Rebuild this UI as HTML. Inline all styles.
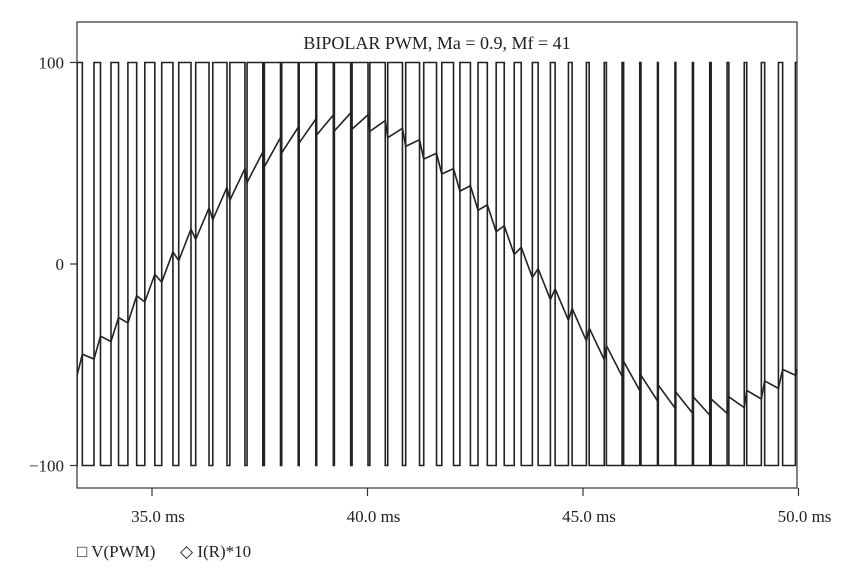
<!DOCTYPE html>
<html><head><meta charset="utf-8"><style>
body{margin:0;background:#fff;}
svg text{font-family:"Liberation Serif",serif;fill:#222;}
</style></head><body>
<svg id="c" width="862" height="575">
<defs><clipPath id="clip"><rect x="77" y="22" width="720" height="466"/></clipPath></defs>
<rect x="77" y="22" width="720" height="466" fill="none" stroke="#333" stroke-width="1.2"/>
<text x="437" y="49" font-size="18" text-anchor="middle">BIPOLAR PWM, Ma = 0.9, Mf = 41</text>
<g id="axes"></g>
<g id="series" clip-path="url(#clip)"></g>
<text x="77" y="557" font-size="17">□ V(PWM)</text>
<text x="180" y="557" font-size="17">◇ I(R)*10</text>
</svg>
<script>
const xTicks=[35,40,45,50];
const xTickLabels=["35.0 ms","40.0 ms","45.0 ms","50.0 ms"];
const yTicks=[100,0,-100];
const yTickLabels=["100","0","\u2212100"];
const carrierPeriod=0.4065;
const tFirst=33.12;
const duty=[0.30,0.37,0.43,0.50,0.57,0.64,0.70,0.76,0.81,0.86,0.90,0.92,0.94,0.95,0.95,0.93,0.91,0.88,0.84,0.79,0.73,0.67,0.60,0.53,0.46,0.40,0.33,0.27,0.21,0.16,0.12,0.09,0.07,0.05,0.05,0.06,0.08,0.10,0.14,0.19,0.24,0.30,0.37];
const current=[-54,-46,-37,-28,-17,-7,4,15,25,35,44,52,59,64,68,70,71,70,67,63,57,50,42,33,23,12,1,-10,-20,-30,-40,-48,-56,-62,-66,-69,-71,-71,-69,-65,-60,-54,-46,-37];
const ripple=8;
const NS="http://www.w3.org/2000/svg";
const tLeft=33.26, pxPerMs=43.1;
const X=t=>77+(t-tLeft)*pxPerMs;
const Y=v=>264-v*2.015;
const axes=document.getElementById('axes'),series=document.getElementById('series');
function mk(tag,attrs,parent){const e=document.createElementNS(NS,tag);for(const k in attrs)e.setAttribute(k,attrs[k]);parent.appendChild(e);return e;}
xTicks.forEach((t,i)=>{
 const l=mk('line',{x1:X(t),x2:X(t),y1:488,y2:496,stroke:'#333','stroke-width':1.2},axes);
 
 
 const tx=mk('text',{x:X(t)+6,y:522,'font-size':17,'text-anchor':'middle'},axes);
 tx.textContent=xTickLabels[i];
 
 
});
yTicks.forEach((v,i)=>{
 const l=mk('line',{x1:70,x2:77,y1:Y(v),y2:Y(v),stroke:'#333','stroke-width':1.2},axes);
 
 
 const tx=mk('text',{x:64,y:Y(v)+6,'font-size':17,'text-anchor':'end'},axes);
 tx.textContent=yTickLabels[i];
 
 
});
let d='M'+X(tFirst)+','+Y(-100);
let ip=[];
duty.forEach((dc,k)=>{
 const t0=tFirst+k*carrierPeriod;
 const a=t0+(1-dc)/2*carrierPeriod, b=a+dc*carrierPeriod, e=t0+carrierPeriod;
 d+=' L'+X(a)+','+Y(-100)+' L'+X(a)+','+Y(100)+' L'+X(b)+','+Y(100)+' L'+X(b)+','+Y(-100)+' L'+X(e)+','+Y(-100);
 const c0=current[k],c1=current[k+1];
 const fa=(1-dc)/2, fb=fa+dc;
 const ia=c0+(c1-c0)*fa-ripple/2, ib=c0+(c1-c0)*fb+ripple/2;
 if(k===0)ip.push([X(t0),Y(c0)]);
 ip.push([X(a),Y(ia)]);ip.push([X(b),Y(ib)]);
});
const p=mk('path',{d:d,fill:'none',stroke:'#222','stroke-width':1.6},series);


const ipath=mk('path',{d:'M'+ip.map(q=>q.join(',')).join(' L'),fill:'none',stroke:'#222','stroke-width':1.6},series);


</script>
</body></html>
